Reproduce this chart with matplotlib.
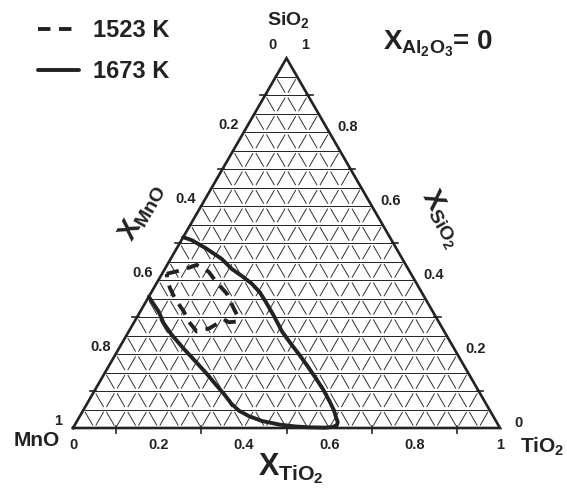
import numpy as np
import matplotlib
matplotlib.use('Agg')
import matplotlib.pyplot as plt
from matplotlib.collections import LineCollection

plt.rcParams['font.family'] = ['Liberation Sans', 'DejaVu Sans']
plt.rcParams['font.weight'] = 'bold'
plt.rcParams['mathtext.fontset'] = 'custom'
plt.rcParams['mathtext.rm'] = 'Liberation Sans:bold'
plt.rcParams['mathtext.it'] = 'Liberation Sans:bold'
plt.rcParams['mathtext.bf'] = 'Liberation Sans:bold'

# данные: (X_TiO2, X_SiO2) по контурам
solid_tio2 = [0.0, 0.024, 0.07, 0.12, 0.157, 0.19, 0.224, 0.255, 0.281, 0.32,
              0.359, 0.395, 0.430, 0.466, 0.502, 0.535, 0.564, 0.587, 0.603,
              0.612, 0.614, 0.608, 0.59, 0.55, 0.52, 0.48, 0.433, 0.396, 0.365,
              0.339, 0.31, 0.275, 0.237, 0.197, 0.15, 0.104, 0.07, 0.043, 0.018,
              0.0]
solid_sio2 = [0.516, 0.508, 0.485, 0.457, 0.430, 0.411, 0.390, 0.366, 0.341, 0.302,
              0.261, 0.229, 0.199, 0.167, 0.134, 0.103, 0.073, 0.048, 0.027,
              0.016, 0.008, 0.003, 0.001, 0.002, 0.004, 0.009, 0.019, 0.032, 0.047,
              0.065, 0.09, 0.118, 0.149, 0.180, 0.216, 0.253, 0.284, 0.315, 0.338,
              0.355]

dashed_tio2 = [0.011, 0.035, 0.056, 0.069, 0.088, 0.107, 0.138, 0.179, 0.215,
               0.232, 0.240, 0.222, 0.207, 0.184, 0.159, 0.127, 0.102, 0.065,
               0.040, 0.022, 0.011]
dashed_sio2 = [0.417, 0.425, 0.434, 0.441, 0.433, 0.422, 0.395, 0.363, 0.323,
               0.305, 0.288, 0.286, 0.293, 0.269, 0.261, 0.288, 0.315, 0.349,
               0.376, 0.398, 0.417]

tick_vals = [0.2, 0.4, 0.6, 0.8]
ink = '#222222'
H = np.sqrt(3) / 2


def tern(t, s):
    # X_TiO2, X_SiO2 -> декартовы координаты
    t = np.asarray(t, dtype=float)
    s = np.asarray(s, dtype=float)
    return t + s / 2, s * H


fig = plt.figure(figsize=(5.67, 4.95), dpi=100)
ax = fig.add_axes([0, 0, 1, 1])
ax.set_xlim(-73 / 427, (567 - 73) / 427)
ax.set_ylim(-67 / 427, (495 - 67) / 427)
ax.axis('off')

# горизонтальные линии сетки (X_SiO2 = const)
n = 20
hlines = []
for k in range(1, n):
    s = k / n
    x0, y0 = tern(0, s)
    x1, y1 = tern(1 - s, s)
    hlines.append([(x0, y0), (x1, y1)])
ax.add_collection(LineCollection(hlines, colors=ink, linewidths=0.7))

# наклонные линии сетки, штрихами между узлами
gap = 0.13
dsegs = []
for k in range(1, n):
    c = k / n
    for j in range(0, n - k):
        a, b = j / n, (j + 1) / n
        a2, b2 = a + gap / n, b - gap / n
        # X_TiO2 = const
        p = tern([c, c], [a2, b2])
        dsegs.append(list(zip(p[0], p[1])))
        # X_MnO = const
        p = tern([1 - c - a2, 1 - c - b2], [a2, b2])
        dsegs.append(list(zip(p[0], p[1])))
ax.add_collection(LineCollection(dsegs, colors=ink, linewidths=0.65))

# рамка треугольника
bx, by = tern([0, 1, 0, 0], [0, 0, 1, 0])
ax.plot(bx, by, color=ink, lw=1.9, solid_joinstyle='miter')

# засечки
tl = 0.011
for v in [0.1, 0.3, 0.5, 0.7, 0.9]:
    x, y = tern(v, 0)
    ax.plot([x, x], [y + 0.004, y - tl], color=ink, lw=1.2)
    x, y = tern(0, 1 - v)
    ax.plot([x + 0.004, x - tl], [y, y], color=ink, lw=1.2)
    x, y = tern(1 - v, v)
    ax.plot([x - 0.004, x + tl], [y, y], color=ink, lw=1.2)

# контуры
sx, sy = tern(solid_tio2, solid_sio2)
ax.plot(sx, sy, color=ink, lw=2.8, solid_joinstyle='round',
        solid_capstyle='round', label='1673 K')
dx, dy = tern(dashed_tio2, dashed_sio2)
ax.plot(dx, dy, color=ink, lw=2.8, linestyle=(0, (3.2, 2.2)),
        label='1523 K')

# подписи шкал
fs_t = 10.5
for v in [0.0] + tick_vals + [1.0]:
    x, y = tern(v, 0)
    ax.text(x, y - 0.04, '%g' % v, ha='center', va='center', fontsize=fs_t, color=ink)
for v in tick_vals + [1.0]:
    x, y = tern(0, 1 - v)
    ax.text(x - 0.036, y + 0.017, '%g' % v, ha='center', va='center',
            fontsize=fs_t, color=ink)
for v in [0.0] + tick_vals:
    x, y = tern(1 - v, v)
    ax.text(x + 0.044, y + 0.012, '%g' % v, ha='center', va='center',
            fontsize=fs_t, color=ink)
ax.text(0.5 - 0.033, H + 0.03, '0', ha='center', va='center', fontsize=fs_t, color=ink)
ax.text(0.5 + 0.044, H + 0.03, '1', ha='center', va='center', fontsize=fs_t, color=ink)

# компоненты
ax.text(0.505, H + 0.09, 'SiO$_2$', ha='center', va='center', fontsize=14, color=ink)
ax.text(-0.085, -0.03, 'MnO', ha='center', va='center', fontsize=15, color=ink)
ax.text(1.1, -0.045, 'TiO$_2$', ha='center', va='center', fontsize=15, color=ink)

# оси
ax.text(0.51, -0.095, r'$X_{TiO_2}$', ha='center', va='center', fontsize=22, color=ink)
ax.text(0.162, 0.506, r'$X_{MnO}$', ha='center', va='center', fontsize=20,
        color=ink, rotation=60)
ax.text(0.864, 0.49, r'$X_{SiO_2}$', ha='center', va='center', fontsize=20,
        color=ink, rotation=-60)
ax.text(0.855, 0.9, r'$X_{Al_2O_3}$= 0', ha='center', va='center', fontsize=20,
        color=ink)

h, l = ax.get_legend_handles_labels()
leg = ax.legend(h[::-1], l[::-1], loc='upper left', bbox_to_anchor=(0.05, 0.98),
                frameon=False, prop={'weight': 'bold', 'size': 17},
                handlelength=1.75, handletextpad=0.6, labelspacing=0.75,
                borderaxespad=0.0)
for t in leg.get_texts():
    t.set_color(ink)

fig.savefig('out.png', dpi=100)
